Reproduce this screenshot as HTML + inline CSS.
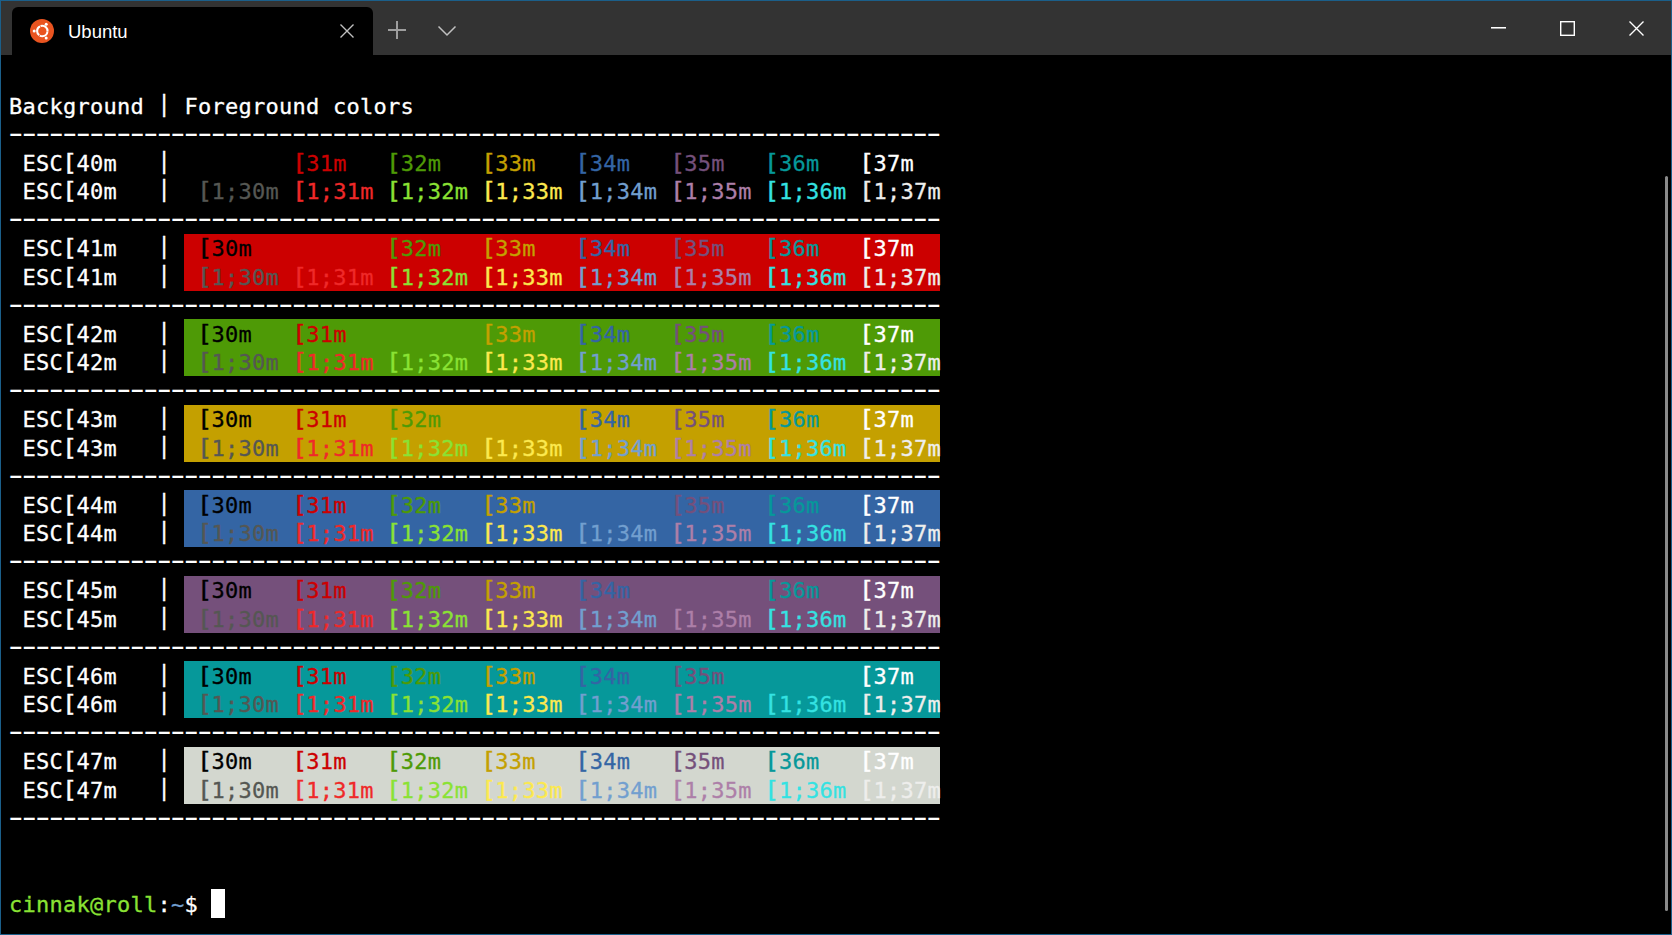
<!DOCTYPE html>
<html><head><meta charset="utf-8"><title>Ubuntu</title>
<style>
html,body{margin:0;padding:0}
body{width:1672px;height:935px;overflow:hidden;background:#000;position:relative;font-family:"DejaVu Sans Mono","Liberation Mono",monospace}
.bd{position:absolute;background:#1b5f8a}
.tb{position:absolute;left:1px;top:1px;width:1670px;height:54px;background:#333333}
.tab{position:absolute;left:12px;top:7px;width:361px;height:48px;background:#000;border-radius:6px 6px 0 0}
.tabt{position:absolute;left:68px;top:19.5px;font:18.5px/24px "Liberation Sans",Arial,sans-serif;color:#fff;letter-spacing:0px}
svg.ic{position:absolute;overflow:visible}
.row{position:absolute;left:9px;height:28.5px;line-height:28.5px;font-size:22px;letter-spacing:0.2549px;white-space:pre;color:#ffffff;-webkit-text-stroke:0.3px currentColor}
.dash{position:absolute;white-space:pre;color:#ffffff;transform-origin:0 0}
.bgb{position:absolute;left:184px;width:756px;height:57px}
.cur{position:absolute;background:#fff}
.k{display:inline-block;transform:translate(0.1px,-0.4px) scale(1.18,1.05);transform-origin:60% 80%}
.v{display:inline-block;transform:translateY(-2.3px) scaleY(1.03)}
.sb{position:absolute;left:1665px;top:176px;width:3px;height:735px;background:#8a8a8a;border-radius:1.5px}
</style></head><body>

<div class="bd" style="left:0;top:0;width:1672px;height:1px"></div>
<div class="bd" style="left:0;top:934px;width:1672px;height:1px"></div>
<div class="bd" style="left:0;top:0;width:1px;height:935px"></div>
<div class="bd" style="left:1671px;top:0;width:1px;height:935px"></div>
<div class="tb"></div>
<div class="tab"></div>
<svg class="ic" style="left:29.8px;top:18.8px" width="24" height="24" viewBox="0 0 24 24">
<circle cx="12" cy="12" r="12" fill="#e95420"/>
<circle cx="12.3" cy="12" r="5.2" fill="none" stroke="#fff" stroke-width="2.1" stroke-dasharray="10.29 0.6" stroke-dashoffset="-0.3"/>
<circle cx="4.2" cy="12.1" r="1.5" fill="#fff"/>
<circle cx="16.2" cy="5.3" r="1.5" fill="#fff"/>
<circle cx="16.2" cy="19.0" r="1.5" fill="#fff"/>
</svg>
<div class="tabt">Ubuntu</div>
<svg class="ic" style="left:340px;top:24px" width="14" height="14" viewBox="0 0 14 14"><path d="M0.5 0.5L13.5 13.5M13.5 0.5L0.5 13.5" stroke="#c0c0c0" stroke-width="1.4" fill="none"/></svg>
<svg class="ic" style="left:388px;top:21px" width="18" height="18" viewBox="0 0 18 18"><path d="M9 0V18M0 9H18" stroke="#9e9e9e" stroke-width="2" fill="none"/></svg>
<svg class="ic" style="left:438px;top:26px" width="18" height="10" viewBox="0 0 18 10"><path d="M0.5 0.5L9 9L17.5 0.5" stroke="#c0c0c0" stroke-width="1.5" fill="none"/></svg>
<div style="position:absolute;left:1491px;top:27px;width:15px;height:2px;background:linear-gradient(#fff 50%,rgba(255,255,255,.55) 50%)"></div>
<svg class="ic" style="left:1560px;top:21px" width="15" height="15" viewBox="0 0 15 15"><rect x="0.7" y="0.7" width="13.6" height="13.6" stroke="#fff" stroke-width="1.4" fill="none"/></svg>
<svg class="ic" style="left:1629px;top:21px" width="15" height="15" viewBox="0 0 15 15"><path d="M0.5 0.5L14.5 14.5M14.5 0.5L0.5 14.5" stroke="#fff" stroke-width="1.4" fill="none"/></svg>
<div class="bgb" style="top:234px;background:#cc0000"></div>
<div class="bgb" style="top:319px;background:#4e9a06"></div>
<div class="bgb" style="top:405px;background:#c4a000"></div>
<div class="bgb" style="top:490px;background:#3465a4"></div>
<div class="bgb" style="top:576px;background:#75507b"></div>
<div class="bgb" style="top:661px;background:#06989a"></div>
<div class="bgb" style="top:747px;background:#d3d7cf"></div>
<div class="row" style="top:92.5px"><span>Background <span class="v">|</span> Foreground colors</span></div>
<div class="row" style="top:149.5px"><span> ESC<span class="k">[</span>40m   <span class="v">|</span> </span><span style="color:#000000"> <span class="k">[</span>30m  </span><span style="color:#cc0000"> <span class="k">[</span>31m  </span><span style="color:#4e9a06"> <span class="k">[</span>32m  </span><span style="color:#c4a000"> <span class="k">[</span>33m  </span><span style="color:#3465a4"> <span class="k">[</span>34m  </span><span style="color:#75507b"> <span class="k">[</span>35m  </span><span style="color:#06989a"> <span class="k">[</span>36m  </span><span style="color:#ffffff"> <span class="k">[</span>37m  </span></div>
<div class="row" style="top:178px"><span> ESC<span class="k">[</span>40m   <span class="v">|</span> </span><span style="color:#555753"> <span class="k">[</span>1;30m</span><span style="color:#ef2929"> <span class="k">[</span>1;31m</span><span style="color:#8ae234"> <span class="k">[</span>1;32m</span><span style="color:#fce94f"> <span class="k">[</span>1;33m</span><span style="color:#729fcf"> <span class="k">[</span>1;34m</span><span style="color:#ad7fa8"> <span class="k">[</span>1;35m</span><span style="color:#34e2e2"> <span class="k">[</span>1;36m</span><span style="color:#eeeeec"> <span class="k">[</span>1;37m</span></div>
<div class="row" style="top:235px"><span> ESC<span class="k">[</span>41m   <span class="v">|</span> </span><span style="color:#000000"> <span class="k">[</span>30m  </span><span style="color:#cc0000"> <span class="k">[</span>31m  </span><span style="color:#4e9a06"> <span class="k">[</span>32m  </span><span style="color:#c4a000"> <span class="k">[</span>33m  </span><span style="color:#3465a4"> <span class="k">[</span>34m  </span><span style="color:#75507b"> <span class="k">[</span>35m  </span><span style="color:#06989a"> <span class="k">[</span>36m  </span><span style="color:#ffffff"> <span class="k">[</span>37m  </span></div>
<div class="row" style="top:263.5px"><span> ESC<span class="k">[</span>41m   <span class="v">|</span> </span><span style="color:#555753"> <span class="k">[</span>1;30m</span><span style="color:#ef2929"> <span class="k">[</span>1;31m</span><span style="color:#8ae234"> <span class="k">[</span>1;32m</span><span style="color:#fce94f"> <span class="k">[</span>1;33m</span><span style="color:#729fcf"> <span class="k">[</span>1;34m</span><span style="color:#ad7fa8"> <span class="k">[</span>1;35m</span><span style="color:#34e2e2"> <span class="k">[</span>1;36m</span><span style="color:#eeeeec"> <span class="k">[</span>1;37m</span></div>
<div class="row" style="top:320.5px"><span> ESC<span class="k">[</span>42m   <span class="v">|</span> </span><span style="color:#000000"> <span class="k">[</span>30m  </span><span style="color:#cc0000"> <span class="k">[</span>31m  </span><span style="color:#4e9a06"> <span class="k">[</span>32m  </span><span style="color:#c4a000"> <span class="k">[</span>33m  </span><span style="color:#3465a4"> <span class="k">[</span>34m  </span><span style="color:#75507b"> <span class="k">[</span>35m  </span><span style="color:#06989a"> <span class="k">[</span>36m  </span><span style="color:#ffffff"> <span class="k">[</span>37m  </span></div>
<div class="row" style="top:349px"><span> ESC<span class="k">[</span>42m   <span class="v">|</span> </span><span style="color:#555753"> <span class="k">[</span>1;30m</span><span style="color:#ef2929"> <span class="k">[</span>1;31m</span><span style="color:#8ae234"> <span class="k">[</span>1;32m</span><span style="color:#fce94f"> <span class="k">[</span>1;33m</span><span style="color:#729fcf"> <span class="k">[</span>1;34m</span><span style="color:#ad7fa8"> <span class="k">[</span>1;35m</span><span style="color:#34e2e2"> <span class="k">[</span>1;36m</span><span style="color:#eeeeec"> <span class="k">[</span>1;37m</span></div>
<div class="row" style="top:406px"><span> ESC<span class="k">[</span>43m   <span class="v">|</span> </span><span style="color:#000000"> <span class="k">[</span>30m  </span><span style="color:#cc0000"> <span class="k">[</span>31m  </span><span style="color:#4e9a06"> <span class="k">[</span>32m  </span><span style="color:#c4a000"> <span class="k">[</span>33m  </span><span style="color:#3465a4"> <span class="k">[</span>34m  </span><span style="color:#75507b"> <span class="k">[</span>35m  </span><span style="color:#06989a"> <span class="k">[</span>36m  </span><span style="color:#ffffff"> <span class="k">[</span>37m  </span></div>
<div class="row" style="top:434.5px"><span> ESC<span class="k">[</span>43m   <span class="v">|</span> </span><span style="color:#555753"> <span class="k">[</span>1;30m</span><span style="color:#ef2929"> <span class="k">[</span>1;31m</span><span style="color:#8ae234"> <span class="k">[</span>1;32m</span><span style="color:#fce94f"> <span class="k">[</span>1;33m</span><span style="color:#729fcf"> <span class="k">[</span>1;34m</span><span style="color:#ad7fa8"> <span class="k">[</span>1;35m</span><span style="color:#34e2e2"> <span class="k">[</span>1;36m</span><span style="color:#eeeeec"> <span class="k">[</span>1;37m</span></div>
<div class="row" style="top:491.5px"><span> ESC<span class="k">[</span>44m   <span class="v">|</span> </span><span style="color:#000000"> <span class="k">[</span>30m  </span><span style="color:#cc0000"> <span class="k">[</span>31m  </span><span style="color:#4e9a06"> <span class="k">[</span>32m  </span><span style="color:#c4a000"> <span class="k">[</span>33m  </span><span style="color:#3465a4"> <span class="k">[</span>34m  </span><span style="color:#75507b"> <span class="k">[</span>35m  </span><span style="color:#06989a"> <span class="k">[</span>36m  </span><span style="color:#ffffff"> <span class="k">[</span>37m  </span></div>
<div class="row" style="top:520px"><span> ESC<span class="k">[</span>44m   <span class="v">|</span> </span><span style="color:#555753"> <span class="k">[</span>1;30m</span><span style="color:#ef2929"> <span class="k">[</span>1;31m</span><span style="color:#8ae234"> <span class="k">[</span>1;32m</span><span style="color:#fce94f"> <span class="k">[</span>1;33m</span><span style="color:#729fcf"> <span class="k">[</span>1;34m</span><span style="color:#ad7fa8"> <span class="k">[</span>1;35m</span><span style="color:#34e2e2"> <span class="k">[</span>1;36m</span><span style="color:#eeeeec"> <span class="k">[</span>1;37m</span></div>
<div class="row" style="top:577px"><span> ESC<span class="k">[</span>45m   <span class="v">|</span> </span><span style="color:#000000"> <span class="k">[</span>30m  </span><span style="color:#cc0000"> <span class="k">[</span>31m  </span><span style="color:#4e9a06"> <span class="k">[</span>32m  </span><span style="color:#c4a000"> <span class="k">[</span>33m  </span><span style="color:#3465a4"> <span class="k">[</span>34m  </span><span style="color:#75507b"> <span class="k">[</span>35m  </span><span style="color:#06989a"> <span class="k">[</span>36m  </span><span style="color:#ffffff"> <span class="k">[</span>37m  </span></div>
<div class="row" style="top:605.5px"><span> ESC<span class="k">[</span>45m   <span class="v">|</span> </span><span style="color:#555753"> <span class="k">[</span>1;30m</span><span style="color:#ef2929"> <span class="k">[</span>1;31m</span><span style="color:#8ae234"> <span class="k">[</span>1;32m</span><span style="color:#fce94f"> <span class="k">[</span>1;33m</span><span style="color:#729fcf"> <span class="k">[</span>1;34m</span><span style="color:#ad7fa8"> <span class="k">[</span>1;35m</span><span style="color:#34e2e2"> <span class="k">[</span>1;36m</span><span style="color:#eeeeec"> <span class="k">[</span>1;37m</span></div>
<div class="row" style="top:662.5px"><span> ESC<span class="k">[</span>46m   <span class="v">|</span> </span><span style="color:#000000"> <span class="k">[</span>30m  </span><span style="color:#cc0000"> <span class="k">[</span>31m  </span><span style="color:#4e9a06"> <span class="k">[</span>32m  </span><span style="color:#c4a000"> <span class="k">[</span>33m  </span><span style="color:#3465a4"> <span class="k">[</span>34m  </span><span style="color:#75507b"> <span class="k">[</span>35m  </span><span style="color:#06989a"> <span class="k">[</span>36m  </span><span style="color:#ffffff"> <span class="k">[</span>37m  </span></div>
<div class="row" style="top:691px"><span> ESC<span class="k">[</span>46m   <span class="v">|</span> </span><span style="color:#555753"> <span class="k">[</span>1;30m</span><span style="color:#ef2929"> <span class="k">[</span>1;31m</span><span style="color:#8ae234"> <span class="k">[</span>1;32m</span><span style="color:#fce94f"> <span class="k">[</span>1;33m</span><span style="color:#729fcf"> <span class="k">[</span>1;34m</span><span style="color:#ad7fa8"> <span class="k">[</span>1;35m</span><span style="color:#34e2e2"> <span class="k">[</span>1;36m</span><span style="color:#eeeeec"> <span class="k">[</span>1;37m</span></div>
<div class="row" style="top:748px"><span> ESC<span class="k">[</span>47m   <span class="v">|</span> </span><span style="color:#000000"> <span class="k">[</span>30m  </span><span style="color:#cc0000"> <span class="k">[</span>31m  </span><span style="color:#4e9a06"> <span class="k">[</span>32m  </span><span style="color:#c4a000"> <span class="k">[</span>33m  </span><span style="color:#3465a4"> <span class="k">[</span>34m  </span><span style="color:#75507b"> <span class="k">[</span>35m  </span><span style="color:#06989a"> <span class="k">[</span>36m  </span><span style="color:#ffffff"> <span class="k">[</span>37m  </span></div>
<div class="row" style="top:776.5px"><span> ESC<span class="k">[</span>47m   <span class="v">|</span> </span><span style="color:#555753"> <span class="k">[</span>1;30m</span><span style="color:#ef2929"> <span class="k">[</span>1;31m</span><span style="color:#8ae234"> <span class="k">[</span>1;32m</span><span style="color:#fce94f"> <span class="k">[</span>1;33m</span><span style="color:#729fcf"> <span class="k">[</span>1;34m</span><span style="color:#ad7fa8"> <span class="k">[</span>1;35m</span><span style="color:#34e2e2"> <span class="k">[</span>1;36m</span><span style="color:#eeeeec"> <span class="k">[</span>1;37m</span></div>
<div class="dash" style="left:2.920px;top:119.5px;font-size:28px;line-height:28.5px;letter-spacing:-7.9536px;transform:scaleX(1.5162)">---------------------------------------------------------------------</div>
<div class="dash" style="left:2.920px;top:205px;font-size:28px;line-height:28.5px;letter-spacing:-7.9536px;transform:scaleX(1.5162)">---------------------------------------------------------------------</div>
<div class="dash" style="left:2.920px;top:290.5px;font-size:28px;line-height:28.5px;letter-spacing:-7.9536px;transform:scaleX(1.5162)">---------------------------------------------------------------------</div>
<div class="dash" style="left:2.920px;top:376px;font-size:28px;line-height:28.5px;letter-spacing:-7.9536px;transform:scaleX(1.5162)">---------------------------------------------------------------------</div>
<div class="dash" style="left:2.920px;top:461.5px;font-size:28px;line-height:28.5px;letter-spacing:-7.9536px;transform:scaleX(1.5162)">---------------------------------------------------------------------</div>
<div class="dash" style="left:2.920px;top:547px;font-size:28px;line-height:28.5px;letter-spacing:-7.9536px;transform:scaleX(1.5162)">---------------------------------------------------------------------</div>
<div class="dash" style="left:2.920px;top:632.5px;font-size:28px;line-height:28.5px;letter-spacing:-7.9536px;transform:scaleX(1.5162)">---------------------------------------------------------------------</div>
<div class="dash" style="left:2.920px;top:718px;font-size:28px;line-height:28.5px;letter-spacing:-7.9536px;transform:scaleX(1.5162)">---------------------------------------------------------------------</div>
<div class="dash" style="left:2.920px;top:803.5px;font-size:28px;line-height:28.5px;letter-spacing:-7.9536px;transform:scaleX(1.5162)">---------------------------------------------------------------------</div>
<div class="row" style="top:890.5px"><span style="color:#8ae234">cinnak@roll</span>:<span style="color:#729fcf">~</span>$ </div>
<div class="cur" style="left:211px;top:889px;width:13.5px;height:29px"></div>
<div class="sb"></div>
</body></html>
